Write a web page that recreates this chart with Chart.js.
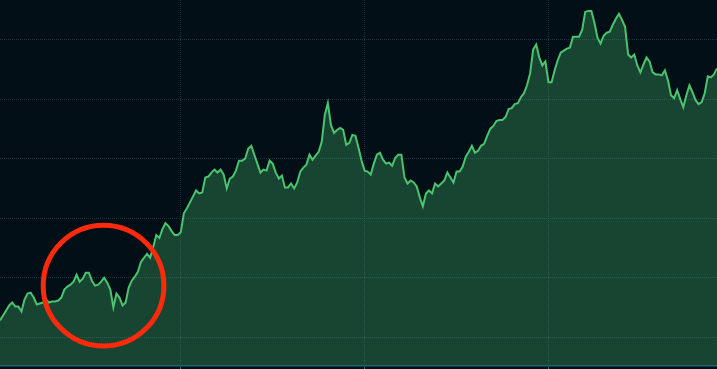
<!DOCTYPE html>
<html>
<head>
<meta charset="utf-8">
<script src="https://cdn.jsdelivr.net/npm/chart.js"></script>
<style>
  html, body { margin: 0; padding: 0; background: #020f17; }
  .chart-box { width: 717px; height: 369px; position: relative; }
</style>
</head>
<body>
<div class="chart-box"><canvas id="chart"></canvas></div>
<script>
// price series, one value per session
const closeValues = [
  117, 122, 127, 132, 135, 131, 131, 126, 138, 144,
  145, 140, 133, 134, 135, 138, 135, 136, 136, 137,
  140, 148, 151, 153, 156, 163, 156, 159, 165, 165,
  157, 152, 153, 156, 160, 155, 148, 130, 144, 140,
  132, 135, 150, 157, 161, 166, 176, 180, 184, 180,
  191, 203, 200, 209, 215, 212, 207, 203, 203, 206,
  225, 230, 236, 242, 248, 245, 246, 261, 262, 266,
  269, 266, 269, 264, 250, 260, 262, 268, 278, 278,
  280, 290, 293, 284, 275, 266, 269, 268, 278, 275,
  266, 260, 263, 251, 251, 255, 250, 256, 267, 271,
  274, 284, 279, 283, 287, 297, 324, 336, 314, 306,
  309, 311, 309, 294, 296, 304, 303, 291, 278, 268,
  267, 264, 275, 284, 286, 279, 275, 276, 273, 281,
  284, 284, 261, 255, 258, 256, 252, 241, 232, 245,
  248, 245, 255, 252, 255, 258, 266, 261, 256, 267,
  267, 272, 282, 287, 293, 286, 288, 293, 295, 303,
  310, 313, 318, 319, 319, 322, 330, 331, 335, 336,
  342, 346, 354, 366, 390, 395, 382, 374, 378, 357,
  357, 369, 379, 387, 389, 391, 392, 403, 403, 403,
  410, 428, 429, 429, 417, 402, 396, 404, 407, 408,
  415, 421, 426, 420, 413, 385, 382, 385, 374, 367,
  375, 382, 378, 367, 365, 365, 364, 369, 359, 344,
  341, 349, 340, 332, 344, 354, 347, 339, 335, 337,
  346, 363, 362, 365, 371
];
const sessions = closeValues.map((v, i) => i + 1);

const xTicks = [60, 120, 180];
const yTicks = [100, 160, 220, 280, 340, 400];

// red ring marking the dip (centre in data units, radius in sessions)
const highlight = { x: 34.8, y: 152, radius: 19.7 };

const ringPlugin = {
  id: 'ring',
  afterDraw(chart) {
    const { ctx, scales } = chart;
    const cx = scales.x.getPixelForValue(highlight.x);
    const cy = scales.y.getPixelForValue(highlight.y);
    const r = scales.x.getPixelForValue(highlight.x + highlight.radius) - cx;
    ctx.save();
    ctx.beginPath();
    ctx.arc(cx, cy, r, 0, Math.PI * 2);
    ctx.strokeStyle = '#ff2a0c';
    ctx.lineWidth = 5;
    ctx.stroke();
    ctx.restore();
  }
};

const bgPlugin = {
  id: 'bg',
  beforeDraw(chart) {
    const { ctx, width, height } = chart;
    ctx.save();
    ctx.fillStyle = '#020f17';
    ctx.fillRect(0, 0, width, height);
    ctx.restore();
  }
};

const ctx = document.getElementById('chart').getContext('2d');

new Chart(ctx, {
  type: 'line',
  data: {
    datasets: [
      {
        data: closeValues.map((v, i) => ({ x: sessions[i], y: v })),
        borderColor: 'rgb(74, 196, 110)',
        backgroundColor: 'rgba(74, 196, 110, 0.3)',
        borderWidth: 2,
        pointRadius: 0,
        tension: 0,
        fill: 'start'
      }
    ]
  },
  options: {
    responsive: true,
    maintainAspectRatio: false,
    animation: false,
    layout: { padding: 0 },
    plugins: {
      legend: { display: false },
      tooltip: { enabled: false }
    },
    scales: {
      x: {
        type: 'linear',
        min: 1,
        max: sessions.length,
        afterBuildTicks: (scale) => { scale.ticks = xTicks.map(v => ({ value: v })); },
        ticks: { display: false },
        grid: {
          color: '#143445',
          tickColor: '#1b6d93',
          tickLength: 3,
          drawTicks: true
        },
        border: { display: true, color: '#0b3d58', width: 2, dash: [1, 1] }
      },
      y: {
        min: 71,
        max: 440,
        afterBuildTicks: (scale) => { scale.ticks = yTicks.map(v => ({ value: v })); },
        ticks: { display: false },
        grid: { color: '#143445', drawTicks: false },
        border: { display: false, dash: [1, 1] }
      }
    }
  },
  plugins: [bgPlugin, ringPlugin]
});
</script>
</body>
</html>
